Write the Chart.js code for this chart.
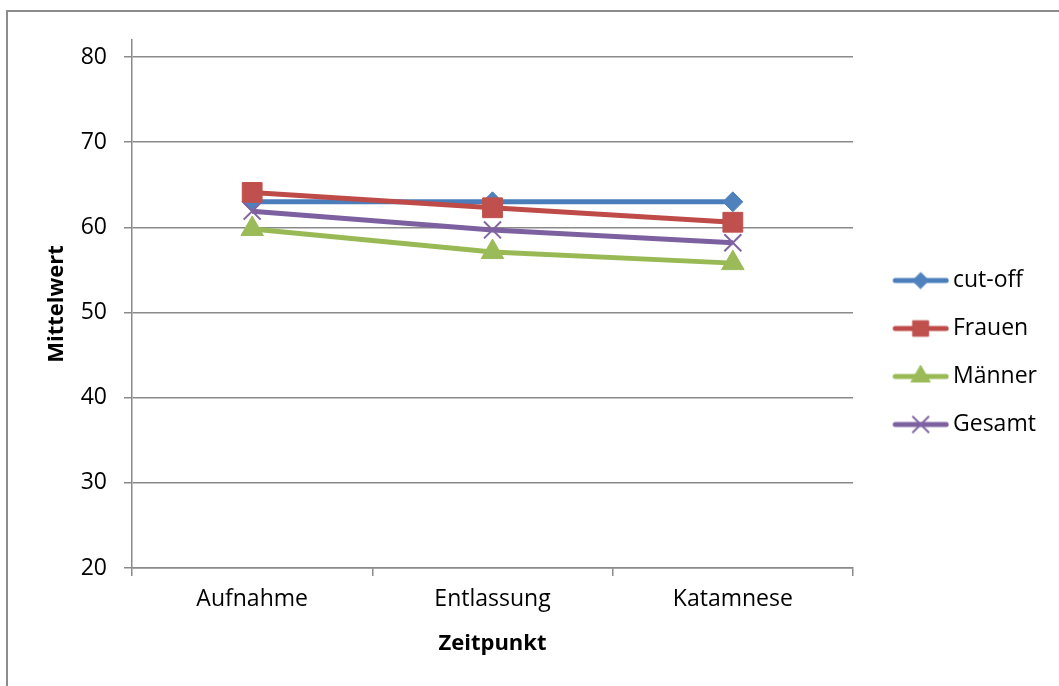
<!DOCTYPE html>
<html>
<head>
<meta charset="utf-8">
<script src="https://cdn.jsdelivr.net/npm/chart.js@4"></script>
<style>
    html, body { margin: 0; padding: 0; background: #fff; }
    #wrap { position: relative; width: 1059px; height: 686px; overflow: hidden; }
    #frame { position: absolute; left: 6px; top: 10px; width: 1100px; height: 720px; border: 2px solid #8c8c8c; box-sizing: border-box; }
    canvas { position: absolute; left: 0; top: 0; }
</style>
</head>
<body>
<div id="wrap">
    <div id="frame"></div>
    <canvas id="lineChart" width="1059" height="686"></canvas>
</div>
<script>
const categories = ['Aufnahme', 'Entlassung', 'Katamnese'];
const seriesNames = ['cut-off', 'Frauen', 'Männer', 'Gesamt'];
const cutOff = [63, 63, 63];
const frauen = [64.1, 62.3, 60.6];
const maenner = [59.8, 57.1, 55.8];
const gesamt = [61.9, 59.7, 58.2];
const yTicks = [20, 30, 40, 50, 60, 70, 80];

const GRID = '#8a8a8a';
const FONT = "'Open Sans', 'DejaVu Sans', sans-serif";

// line colour, marker colour, marker style, marker radius, marker border
const styles = [
    { line: '#4a7ebb', mark: '#4f81bd', point: 'rectRot', r: 10, bw: 1, lr: 8 },
    { line: '#be4b48', mark: '#c0504d', point: 'rect', r: 14, bw: 1, lr: 11 },
    { line: '#98b954', mark: '#9bbb59', point: 'triangle', r: 13, bw: 1, lr: 11 },
    { line: '#7d60a0', mark: '#8064a2', point: 'crossRot', r: 12, bw: 2, lr: 11 }
];

// small canvas used as legend symbol: line segment with marker in the middle
function legendIcon(s) {
    const c = document.createElement('canvas');
    c.width = 79;
    c.height = 24;
    const ctx = c.getContext('2d');
    ctx.strokeStyle = s.line;
    ctx.lineWidth = 5;
    ctx.lineCap = 'round';
    ctx.beginPath();
    ctx.moveTo(25, 12);
    ctx.lineTo(76, 12);
    ctx.stroke();
    ctx.fillStyle = s.mark;
    ctx.strokeStyle = s.mark;
    ctx.lineWidth = s.bw;
    Chart.helpers.drawPoint(ctx, { pointStyle: s.point, radius: s.lr, rotation: 0, borderWidth: s.bw }, 50.5, 12);
    return c;
}

const values = [cutOff, frauen, maenner, gesamt];
const datasets = values.map((data, i) => ({
    label: seriesNames[i],
    data: data,
    borderColor: styles[i].line,
    backgroundColor: styles[i].mark,
    borderWidth: 5,
    pointStyle: styles[i].point,
    pointRadius: styles[i].r,
    pointBorderWidth: styles[i].bw,
    pointBorderColor: styles[i].mark,
    pointBackgroundColor: styles[i].mark,
    tension: 0,
    fill: false,
    order: values.length - 1 - i // later series on top, like the original
}));

const icons = styles.map(legendIcon);

const fixLegendWidth = {
    id: 'fixLegendWidth',
    afterInit(chart) {
        const legend = chart.legend;
        const origFit = legend.fit;
        legend.fit = function () {
            origFit.call(this);
            this.width = 206;
        };
    }
};

new Chart(document.getElementById('lineChart').getContext('2d'), {
    type: 'line',
    data: { labels: categories, datasets: datasets },
    plugins: [fixLegendWidth],
    options: {
        responsive: false,
        animation: false,
        layout: { padding: { left: 0, right: 0, top: 40, bottom: 21 } },
        scales: {
            x: {
                offset: true,
                afterFit: (scale) => { scale.height = 97; },
                grid: { display: true, drawOnChartArea: false, drawTicks: true, tickLength: 8, offset: true, color: GRID, lineWidth: 1.5 },
                border: { display: true, color: GRID, width: 1.5 },
                ticks: { color: '#000', padding: 10, font: { family: FONT, size: 23 } },
                title: {
                    display: true,
                    text: 'Zeitpunkt',
                    color: '#000',
                    padding: { top: 0, bottom: 7.8 },
                    font: { family: FONT, size: 22, weight: 'bold' }
                }
            },
            y: {
                min: 20,
                max: 82,
                afterFit: (scale) => { scale.width = 132; },
                afterBuildTicks: (scale) => {
                    scale.ticks = yTicks.map(v => ({ value: v }));
                },
                grid: { color: GRID, lineWidth: 1.5, drawTicks: true, tickLength: 8 },
                border: { display: true, color: GRID, width: 1.5 },
                ticks: { stepSize: 10, color: '#000', padding: 17, font: { family: FONT, size: 23 } },
                title: {
                    display: true,
                    text: 'Mittelwert',
                    color: '#000',
                    padding: { top: 43.8, bottom: 0 },
                    font: { family: FONT, size: 22, weight: 'bold' }
                }
            }
        },
        plugins: {
            tooltip: { enabled: false },
            legend: {
                display: true,
                position: 'right',
                labels: {
                    color: '#000',
                    font: { family: FONT, size: 23 },
                    usePointStyle: true,
                    pointStyleWidth: 63.5,
                    padding: 25,
                    sort: (a, b) => a.datasetIndex - b.datasetIndex,
                    generateLabels: (chart) => {
                        const items = Chart.defaults.plugins.legend.labels.generateLabels(chart);
                        items.forEach(item => { item.pointStyle = icons[item.datasetIndex]; });
                        return items;
                    }
                }
            }
        }
    }
});
</script>
</body>
</html>
